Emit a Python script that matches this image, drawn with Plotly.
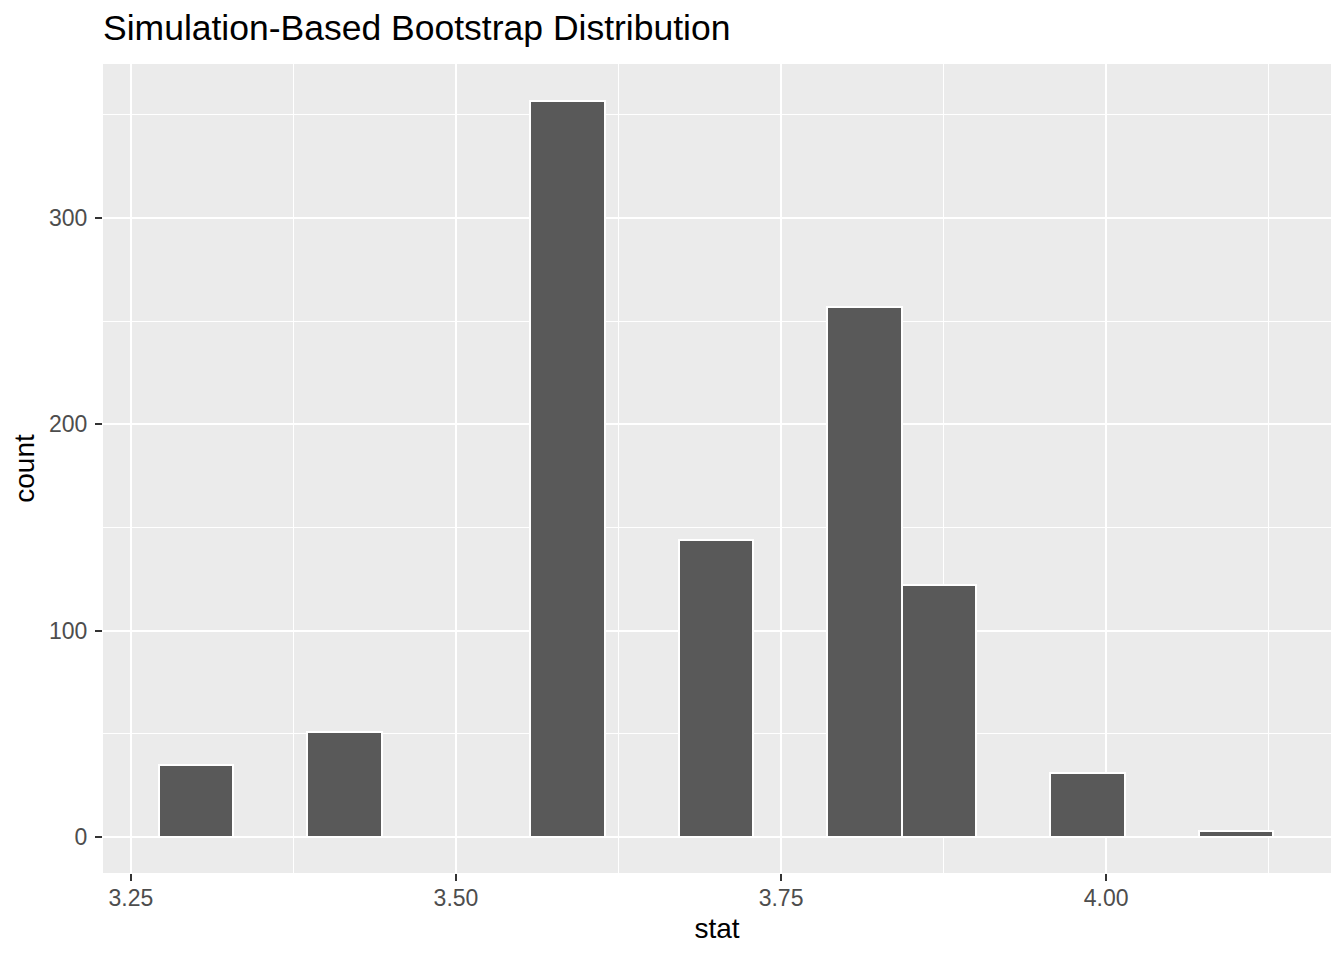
import plotly.graph_objects as go

# histogram bins (centers), bin width and counts
bin_centers = [3.3, 3.4143, 3.5857, 3.7, 3.8143, 3.8714, 3.9857, 4.1]
bin_width = 0.05714
counts = [35, 51, 357, 144, 257, 122, 31, 3]

x_ticks = [3.25, 3.50, 3.75, 4.00]
x_labels = ["3.25", "3.50", "3.75", "4.00"]
y_ticks = [0, 100, 200, 300]

fig = go.Figure()

fig.add_trace(go.Bar(x = bin_centers, y = counts, width = bin_width,
    marker = {"color": "#595959", "line": {"color": "white", "width": 2}}))

# the page body adds 8px on the left and top, so margins are shifted by that
fig.update_layout(width = 1344, height = 960,
    margin = {"l": 95, "r": 21, "t": 56, "b": 95},
    paper_bgcolor = "white", plot_bgcolor = "#EBEBEB",
    font = {"family": "Liberation Sans, Arial, sans-serif", "color": "black"},
    showlegend = False, bargap = 0,
    title = {"text": "Simulation-Based Bootstrap Distribution",
        "x": 0, "xref": "paper", "xanchor": "left",
        "y": 1 - 20 / 960, "yref": "container", "yanchor": "middle",
        "font": {"size": 35.5, "color": "black"}})

#update axes
fig.update_xaxes(range = [3.2285, 4.173], tickvals = x_ticks, ticktext = x_labels,
    showgrid = True, gridcolor = "white", gridwidth = 2,
    minor = {"tickvals": [3.375, 3.625, 3.875, 4.125], "showgrid": True,
        "gridcolor": "white", "gridwidth": 1, "ticks": ""},
    ticks = "outside", ticklen = 7, tickwidth = 2, tickcolor = "#333333",
    ticklabelstandoff = -3,
    tickfont = {"size": 23, "color": "#4D4D4D"}, zeroline = False,
    title = {"text": "stat", "font": {"size": 28, "color": "black"}, "standoff": 8})

fig.update_yaxes(range = [-17.45, 374.7], tickvals = y_ticks,
    showgrid = True, gridcolor = "white", gridwidth = 2,
    minor = {"tickvals": [50, 150, 250, 350], "showgrid": True,
        "gridcolor": "white", "gridwidth": 1, "ticks": ""},
    ticks = "outside", ticklen = 7, tickwidth = 2, tickcolor = "#333333",
    ticklabelstandoff = 3,
    tickfont = {"size": 23, "color": "#4D4D4D"}, zeroline = False,
    title = {"text": "count", "font": {"size": 28, "color": "black"}, "standoff": 6})

fig.write_html("out.html")
